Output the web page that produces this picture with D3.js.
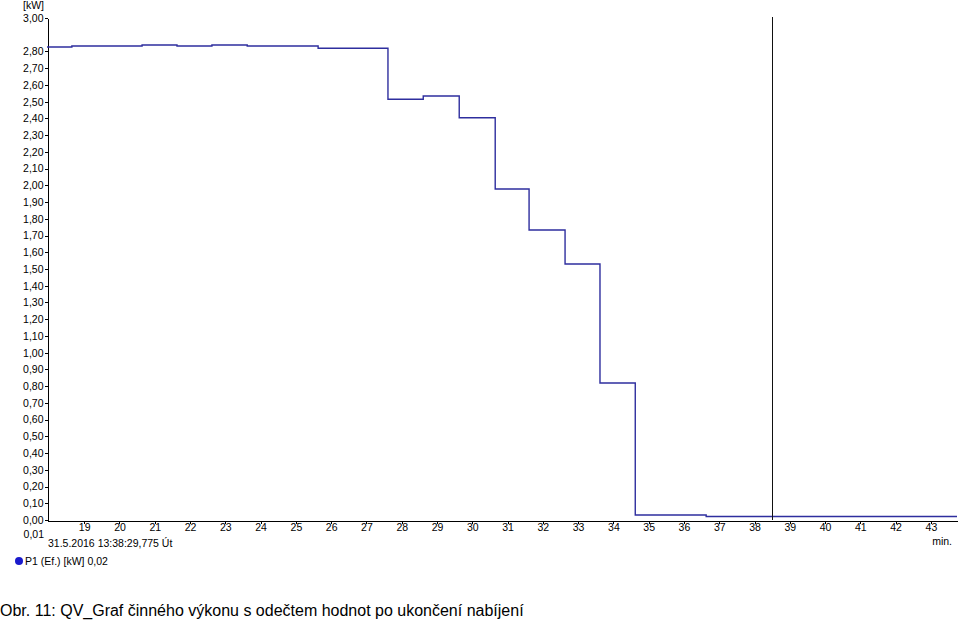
<!DOCTYPE html>
<html>
<head>
<meta charset="utf-8">
<script src="https://cdn.jsdelivr.net/npm/d3@7"></script>
<style>
  html, body { margin: 0; padding: 0; background: #fff; }
  svg { display: block; }
  .ax text { font-family: "Liberation Sans", Arial, sans-serif; font-size: 10.5px; fill: #000; }
  .ax path, .ax line { stroke: #000; shape-rendering: crispEdges; }
</style>
</head>
<body>
<script>
// ---- data ----
const stepStartMin = [17.945, 18.65, 20.64, 21.63, 22.62, 23.62, 25.63, 27.61, 28.61, 29.63, 30.65, 31.61, 32.63, 33.62, 34.62, 36.63, 43.74];
const powerKW      = [2.827, 2.833, 2.839, 2.833, 2.839, 2.833, 2.819, 2.514, 2.534, 2.404, 1.978, 1.733, 1.530, 0.819, 0.030, 0.021, 0.021];
const xTickValues  = [19,20,21,22,23,24,25,26,27,28,29,30,31,32,33,34,35,36,37,38,39,40,41,42,43];
const yTickValues  = [0,0.1,0.2,0.3,0.4,0.5,0.6,0.7,0.8,0.9,1.0,1.1,1.2,1.3,1.4,1.5,1.6,1.7,1.8,1.9,2.0,2.1,2.2,2.3,2.4,2.5,2.6,2.7,2.8,3.0];
const cursorMin    = 38.5;
const xDomain      = [17.945, 43.74];
const yDomain      = [0, 3];
const texts = {
  unit: "[kW]",
  cursorValue: "0,01",
  timestamp: "31.5.2016 13:38:29,775 Út",
  xUnit: "min.",
  legend: "P1 (Ef.) [kW] 0,02",
  caption: "Obr. 11: QV_Graf činného výkonu s odečtem hodnot po ukončení nabíjení"
};

const W = 959, H = 620;
const mLeft = 47, mRight = 957, mTop = 18, mBottom = 520;

const svg = d3.select("body").append("svg").attr("width", W).attr("height", H);
svg.append("rect").attr("width", W).attr("height", H).attr("fill", "#fff");

const x = d3.scaleLinear().domain(xDomain).range([mLeft, mRight]);
const y = d3.scaleLinear().domain(yDomain).range([mBottom, mTop]);
const fmt = v => d3.format(".2f")(v).replace(".", ",");

// axes
svg.append("g").attr("class", "ax").attr("transform", `translate(${mLeft + 0.5},0)`)
  .call(d3.axisLeft(y).tickValues(yTickValues).tickFormat(fmt).tickSize(3).tickPadding(1).tickSizeOuter(0));
const gx = svg.append("g").attr("class", "ax").attr("transform", `translate(0,${mBottom + 0.5})`)
  .call(d3.axisBottom(x).tickValues(xTickValues).tickFormat(d3.format("d")).tickSize(3).tickPadding(0).tickSizeOuter(0));
gx.selectAll("text").attr("font-size", "11px");

// step line
const pts = stepStartMin.map((m, i) => [m, powerKW[i]]);
svg.append("path")
  .datum(pts)
  .attr("fill", "none")
  .attr("stroke", "#2e2e9e")
  .attr("stroke-width", 1.4)
  .attr("d", d3.line().x(d => x(d[0])).y(d => y(d[1])).curve(d3.curveStepAfter));

// cursor line
const cx = Math.round(x(cursorMin)) + 0.5;
svg.append("line")
  .attr("x1", cx).attr("x2", cx)
  .attr("y1", mTop - 1).attr("y2", mBottom)
  .attr("stroke", "#111").attr("stroke-width", 1);

// texts
const font = "Liberation Sans, Arial, sans-serif";
svg.append("text").attr("x", 44).attr("y", 9).attr("text-anchor", "end")
  .attr("font-family", font).attr("font-size", "10.5px").text(texts.unit);
svg.append("text").attr("x", 44).attr("y", 538).attr("text-anchor", "end")
  .attr("font-family", font).attr("font-size", "10.5px").text(texts.cursorValue);
svg.append("text").attr("x", 48).attr("y", 547)
  .attr("font-family", font).attr("font-size", "10.5px").text(texts.timestamp);
svg.append("text").attr("x", 952).attr("y", 545).attr("text-anchor", "end")
  .attr("font-family", font).attr("font-size", "10.5px").text(texts.xUnit);

// legend
svg.append("circle").attr("cx", 19).attr("cy", 561).attr("r", 4).attr("fill", "#1a1acc");
svg.append("text").attr("x", 25).attr("y", 565)
  .attr("font-family", font).attr("font-size", "10.5px").text(texts.legend);

// caption
svg.append("text").attr("x", 0).attr("y", 616)
  .attr("font-family", font).attr("font-size", "16px").attr("fill", "#000").text(texts.caption);
</script>
</body>
</html>
